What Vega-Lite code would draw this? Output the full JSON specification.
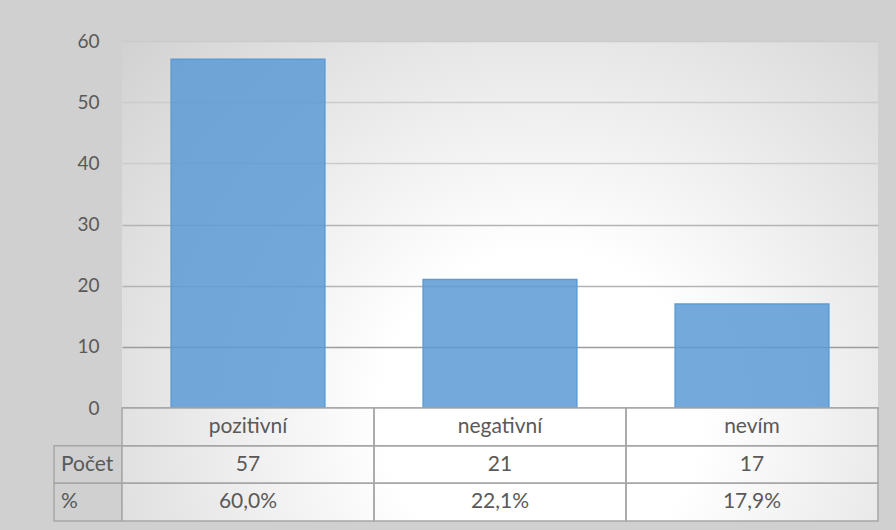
{
  "$schema": "https://vega.github.io/schema/vega-lite/v6.json",
  "background": "#d0d0d0",
  "padding": {"left": 53, "top": 32, "right": 19, "bottom": 8},
  "config": {"font": "Lato", "view": {"stroke": null}},
  "datasets": {
    "hodnoty": [
      {"kategorie": "pozitivní", "pocet": 57},
      {"kategorie": "negativní", "pocet": 21},
      {"kategorie": "nevím", "pocet": 17}
    ],
    "tabulka": [
      {"kategorie": "pozitivní", "radek": "záhlaví", "text": "pozitivní"},
      {"kategorie": "negativní", "radek": "záhlaví", "text": "negativní"},
      {"kategorie": "nevím", "radek": "záhlaví", "text": "nevím"},
      {"kategorie": "pozitivní", "radek": "Počet", "text": "57"},
      {"kategorie": "negativní", "radek": "Počet", "text": "21"},
      {"kategorie": "nevím", "radek": "Počet", "text": "17"},
      {"kategorie": "pozitivní", "radek": "%", "text": "60,0%"},
      {"kategorie": "negativní", "radek": "%", "text": "22,1%"},
      {"kategorie": "nevím", "radek": "%", "text": "17,9%"}
    ],
    "popisky": [{"radek": "Počet"}, {"radek": "%"}]
  },
  "columns": 2,
  "spacing": 0,
  "bounds": "flush",
  "resolve": {"scale": {"x": "independent", "y": "independent"}},
  "concat": [
    {
      "data": {"values": []},
      "width": 68,
      "height": 367,
      "mark": {"type": "text"},
      "encoding": {}
    },
    {
      "data": {"name": "hodnoty"},
      "width": 756,
      "height": 367,
      "view": {
        "stroke": null,
        "fill": {"gradient": "radial", "x1": 0.556, "y1": 0.747, "r1": 0, "x2": 0.556, "y2": 0.747, "r2": 0.85,
          "stops": [{"offset": 0, "color": "#ffffff"}, {"offset": 0.25, "color": "#ffffff"}, {"offset": 1, "color": "#c8c8c8"}]}
      },
      "mark": {"type": "bar", "fill": "#5b9bd5", "fillOpacity": 0.85, "stroke": "#5b9bd5", "strokeWidth": 1.5},
      "encoding": {
        "x": {"field": "kategorie", "type": "nominal", "sort": null,
          "scale": {"paddingInner": 0.39, "paddingOuter": 0.195},
          "axis": {"labels": false, "ticks": false, "title": null, "grid": false, "domainColor": "#858585", "domainWidth": 2}},
        "y": {"field": "pocet", "type": "quantitative",
          "scale": {"domain": [0, 60], "nice": false},
          "axis": {"values": [0, 10, 20, 30, 40, 50, 60], "title": null, "domain": false, "ticks": false,
            "labelFontSize": 19, "labelColor": "#595959", "labelPadding": 23,
            "gridColor": {"condition": [{"test": "datum.value <= 10", "value": "#9c9c9c"}, {"test": "datum.value <= 30", "value": "#b4b4b4"}], "value": "#cbcbcb"},
            "gridWidth": 1.3}}
      }
    },
    {
      "data": {"name": "popisky"},
      "width": 68,
      "height": 113,
      "layer": [
        {
          "mark": {"type": "rect", "fill": "transparent", "stroke": "#a6a6a6", "strokeWidth": 1.5},
          "encoding": {
            "y": {"field": "radek", "type": "nominal", "scale": {"domain": ["záhlaví", "Počet", "%"], "paddingInner": 0, "paddingOuter": 0}, "axis": null}
          }
        },
        {
          "mark": {"type": "text", "align": "left", "dx": -27, "fontSize": 21, "color": "#595959"},
          "encoding": {
            "y": {"field": "radek", "type": "nominal", "scale": {"domain": ["záhlaví", "Počet", "%"], "paddingInner": 0, "paddingOuter": 0}, "axis": null},
            "text": {"field": "radek"}
          }
        }
      ]
    },
    {
      "data": {"name": "tabulka"},
      "width": 756,
      "height": 113,
      "view": {
        "stroke": null,
        "fill": {"gradient": "radial", "x1": 0.556, "y1": 0.429, "r1": 0, "x2": 0.556, "y2": 0.429, "r2": 0.85,
          "stops": [{"offset": 0, "color": "#ffffff"}, {"offset": 0.25, "color": "#ffffff"}, {"offset": 1, "color": "#c8c8c8"}]}
      },
      "layer": [
        {
          "mark": {"type": "rect", "fill": "transparent", "stroke": "#a6a6a6", "strokeWidth": 1.5},
          "encoding": {
            "x": {"field": "kategorie", "type": "nominal", "sort": null, "scale": {"paddingInner": 0, "paddingOuter": 0}, "axis": null},
            "y": {"field": "radek", "type": "nominal", "scale": {"domain": ["záhlaví", "Počet", "%"], "paddingInner": 0, "paddingOuter": 0}, "axis": null}
          }
        },
        {
          "mark": {"type": "text", "fontSize": 21, "color": "#595959"},
          "encoding": {
            "x": {"field": "kategorie", "type": "nominal", "sort": null, "scale": {"paddingInner": 0, "paddingOuter": 0}, "axis": null},
            "y": {"field": "radek", "type": "nominal", "scale": {"domain": ["záhlaví", "Počet", "%"], "paddingInner": 0, "paddingOuter": 0}, "axis": null},
            "text": {"field": "text"}
          }
        }
      ]
    }
  ]
}
